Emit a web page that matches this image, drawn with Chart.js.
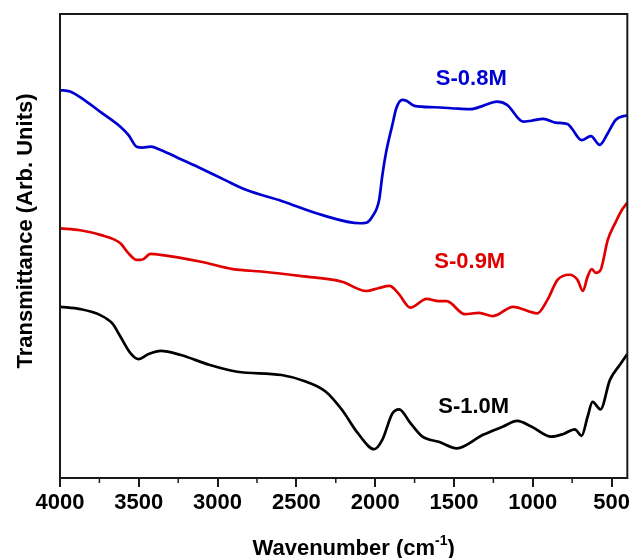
<!DOCTYPE html>
<html>
<head>
<meta charset="utf-8">
<title>FTIR spectra</title>
<script src="https://cdn.jsdelivr.net/npm/chart.js@4.4.0/dist/chart.umd.min.js"></script>
<style>
  html, body { margin: 0; padding: 0; background: #ffffff; }
</style>
</head>
<body>
<canvas id="ftirChart" width="633" height="558"></canvas>
<script>
// --------------------------------
// Spectrum data (wavenumber in cm-1, transmittance in arbitrary units)
// --------------------------------
const s08Wavenumber = [4000, 3936, 3847, 3744, 3617, 3565, 3514, 3476, 3425, 3361, 3233, 3105, 2952, 2820, 2594, 2339, 2096, 2057, 2019, 1975, 1955, 1930, 1891, 1866, 1827, 1802, 1751, 1623, 1470, 1393, 1316, 1227, 1163, 1061, 1010, 933, 856, 779, 754, 690, 631, 575, 524, 473, 401];
const s08Transmittance = [83.6, 83.3, 81.5, 78.9, 75.7, 73.9, 71.4, 71.2, 71.4, 70.7, 68.7, 66.7, 64.2, 62.1, 59.7, 56.7, 54.9, 55.0, 56.3, 59.9, 65.1, 70.3, 76.1, 79.7, 81.5, 81.3, 80.2, 79.9, 79.6, 79.5, 80.2, 81.1, 80.4, 76.8, 77.0, 77.4, 76.6, 76.3, 75.4, 72.8, 73.7, 71.8, 74.3, 77.2, 78.2];

const s09Wavenumber = [4000, 3872, 3744, 3617, 3565, 3514, 3476, 3425, 3361, 3105, 2901, 2722, 2466, 2211, 2057, 1981, 1909, 1853, 1776, 1674, 1597, 1546, 1431, 1342, 1252, 1125, 971, 907, 843, 767, 716, 682, 652, 626, 600, 570, 524, 473, 434, 401];
const s09Transmittance = [53.8, 53.4, 52.4, 50.6, 48.4, 47.0, 47.1, 48.3, 48.1, 46.6, 45.0, 44.5, 43.5, 42.3, 40.3, 40.9, 41.4, 39.8, 36.7, 38.6, 38.1, 38.1, 35.3, 35.6, 34.9, 36.9, 35.5, 38.4, 42.7, 43.8, 42.7, 40.3, 43.4, 45.0, 44.2, 44.8, 51.3, 55.2, 57.8, 59.3];

const s10Wavenumber = [4000, 3872, 3744, 3668, 3617, 3553, 3502, 3438, 3361, 3233, 3054, 2875, 2594, 2441, 2313, 2211, 2109, 2006, 1955, 1891, 1848, 1776, 1700, 1597, 1482, 1316, 1188, 1099, 1010, 882, 805, 733, 690, 652, 621, 570, 511, 447, 401];
const s10Transmittance = [36.9, 36.4, 35.1, 33.3, 30.5, 26.9, 25.6, 26.7, 27.4, 26.5, 24.4, 22.9, 22.2, 20.8, 18.6, 14.7, 9.6, 6.2, 8.2, 13.9, 14.8, 11.8, 8.9, 7.8, 6.4, 9.3, 11.1, 12.3, 11.1, 8.9, 9.5, 10.5, 9.1, 13.2, 16.4, 14.8, 21.1, 24.4, 26.7];

// Sample names and where their labels sit (wavenumber, transmittance)
const sampleNames = ['S-0.8M', 'S-0.9M', 'S-1.0M'];
const sampleColors = ['#0000d2', '#e00000', '#000000'];
const labelWavenumber = [1390, 1400, 1375];
const labelTransmittance = [86.0, 46.6, 15.3];

// Axis ticks
const xTicks = [4000, 3500, 3000, 2500, 2000, 1500, 1000, 500];
const xMinorTicks = [3750, 3250, 2750, 2250, 1750, 1250, 750];

const FONT_FAMILY = '"Liberation Sans", Arial, Helvetica, sans-serif';
const BOLD_22 = 'bold 22px ' + FONT_FAMILY;

function toPoints(wn, t) {
    return wn.map((w, i) => ({x: w, y: t[i]}));
}

// Frame, minor ticks, sample labels and both axis titles
const decorations = {
    id: 'decorations',
    afterDraw(chart) {
        const ctx = chart.ctx;
        const area = chart.chartArea;
        const x = chart.scales.x;
        const y = chart.scales.y;
        ctx.save();

        ctx.strokeStyle = '#1a1a1a';
        ctx.lineWidth = 2;
        ctx.strokeRect(area.left, area.top, area.right - area.left, area.bottom - area.top);

        ctx.lineWidth = 1.5;
        xMinorTicks.forEach(v => {
            const px = x.getPixelForValue(v);
            ctx.beginPath();
            ctx.moveTo(px, area.bottom);
            ctx.lineTo(px, area.bottom + 5);
            ctx.stroke();
        });

        ctx.font = BOLD_22;
        ctx.textAlign = 'center';
        ctx.textBaseline = 'middle';
        sampleNames.forEach((name, i) => {
            ctx.fillStyle = sampleColors[i];
            ctx.fillText(name, x.getPixelForValue(labelWavenumber[i]), y.getPixelForValue(labelTransmittance[i]));
        });

        // y title, rotated
        ctx.save();
        ctx.translate(26, 231);
        ctx.rotate(-Math.PI / 2);
        ctx.fillStyle = '#000';
        ctx.font = BOLD_22;
        ctx.fillText('Transmittance (Arb. Units)', 0, 0);
        ctx.restore();

        // "Wavenumber (cm-1)" with a raised -1
        const supFont = 'bold 14px ' + FONT_FAMILY;
        const part1 = 'Wavenumber (cm';
        const sup = '-1';
        const part2 = ')';
        ctx.font = BOLD_22;
        const w1 = ctx.measureText(part1).width;
        const w3 = ctx.measureText(part2).width;
        ctx.font = supFont;
        const w2 = ctx.measureText(sup).width;
        const cx = (area.left + area.right) / 2 + 10;
        const baseY = 555;
        let sx = cx - (w1 + w2 + w3) / 2;
        ctx.textAlign = 'left';
        ctx.textBaseline = 'alphabetic';
        ctx.fillStyle = '#000';
        ctx.font = BOLD_22;
        ctx.fillText(part1, sx, baseY);
        sx += w1;
        ctx.font = supFont;
        ctx.fillText(sup, sx, baseY - 10);
        sx += w2;
        ctx.font = BOLD_22;
        ctx.fillText(part2, sx, baseY);

        ctx.restore();
    }
};

function series(label, wn, t, color) {
    return {
        label: label,
        data: toPoints(wn, t),
        borderColor: color,
        backgroundColor: color,
        borderWidth: 2.7,
        pointRadius: 0,
        fill: false,
        cubicInterpolationMode: 'monotone'
    };
}

const ctx = document.getElementById('ftirChart').getContext('2d');
const ftirChart = new Chart(ctx, {
    type: 'line',
    data: {
        datasets: [
            series(sampleNames[0], s08Wavenumber, s08Transmittance, sampleColors[0]),
            series(sampleNames[1], s09Wavenumber, s09Transmittance, sampleColors[1]),
            series(sampleNames[2], s10Wavenumber, s10Transmittance, sampleColors[2])
        ]
    },
    options: {
        responsive: false,
        animation: false,
        events: [],
        layout: {
            padding: {top: 14, right: 3, left: 0, bottom: 0}
        },
        plugins: {
            legend: { display: false },
            tooltip: { enabled: false }
        },
        scales: {
            x: {
                type: 'linear',
                reverse: true,
                min: 400,
                max: 4000,
                afterBuildTicks: scale => {
                    scale.ticks = xTicks.map(v => ({value: v}));
                },
                afterFit: scale => {
                    scale.height = 80;
                },
                border: { display: false },
                grid: {
                    drawOnChartArea: false,
                    drawTicks: true,
                    tickLength: 9,
                    color: '#1a1a1a',
                    lineWidth: 2
                },
                ticks: {
                    color: '#000',
                    padding: 3,
                    maxRotation: 0,
                    autoSkip: false,
                    callback: value => String(value),
                    font: { family: FONT_FAMILY, size: 22, weight: 'bold' }
                }
            },
            y: {
                min: 0,
                max: 100,
                afterFit: scale => {
                    scale.width = 60;
                },
                border: { display: false },
                grid: { display: false },
                ticks: { display: false }
            }
        }
    },
    plugins: [decorations]
});
</script>
</body>
</html>
